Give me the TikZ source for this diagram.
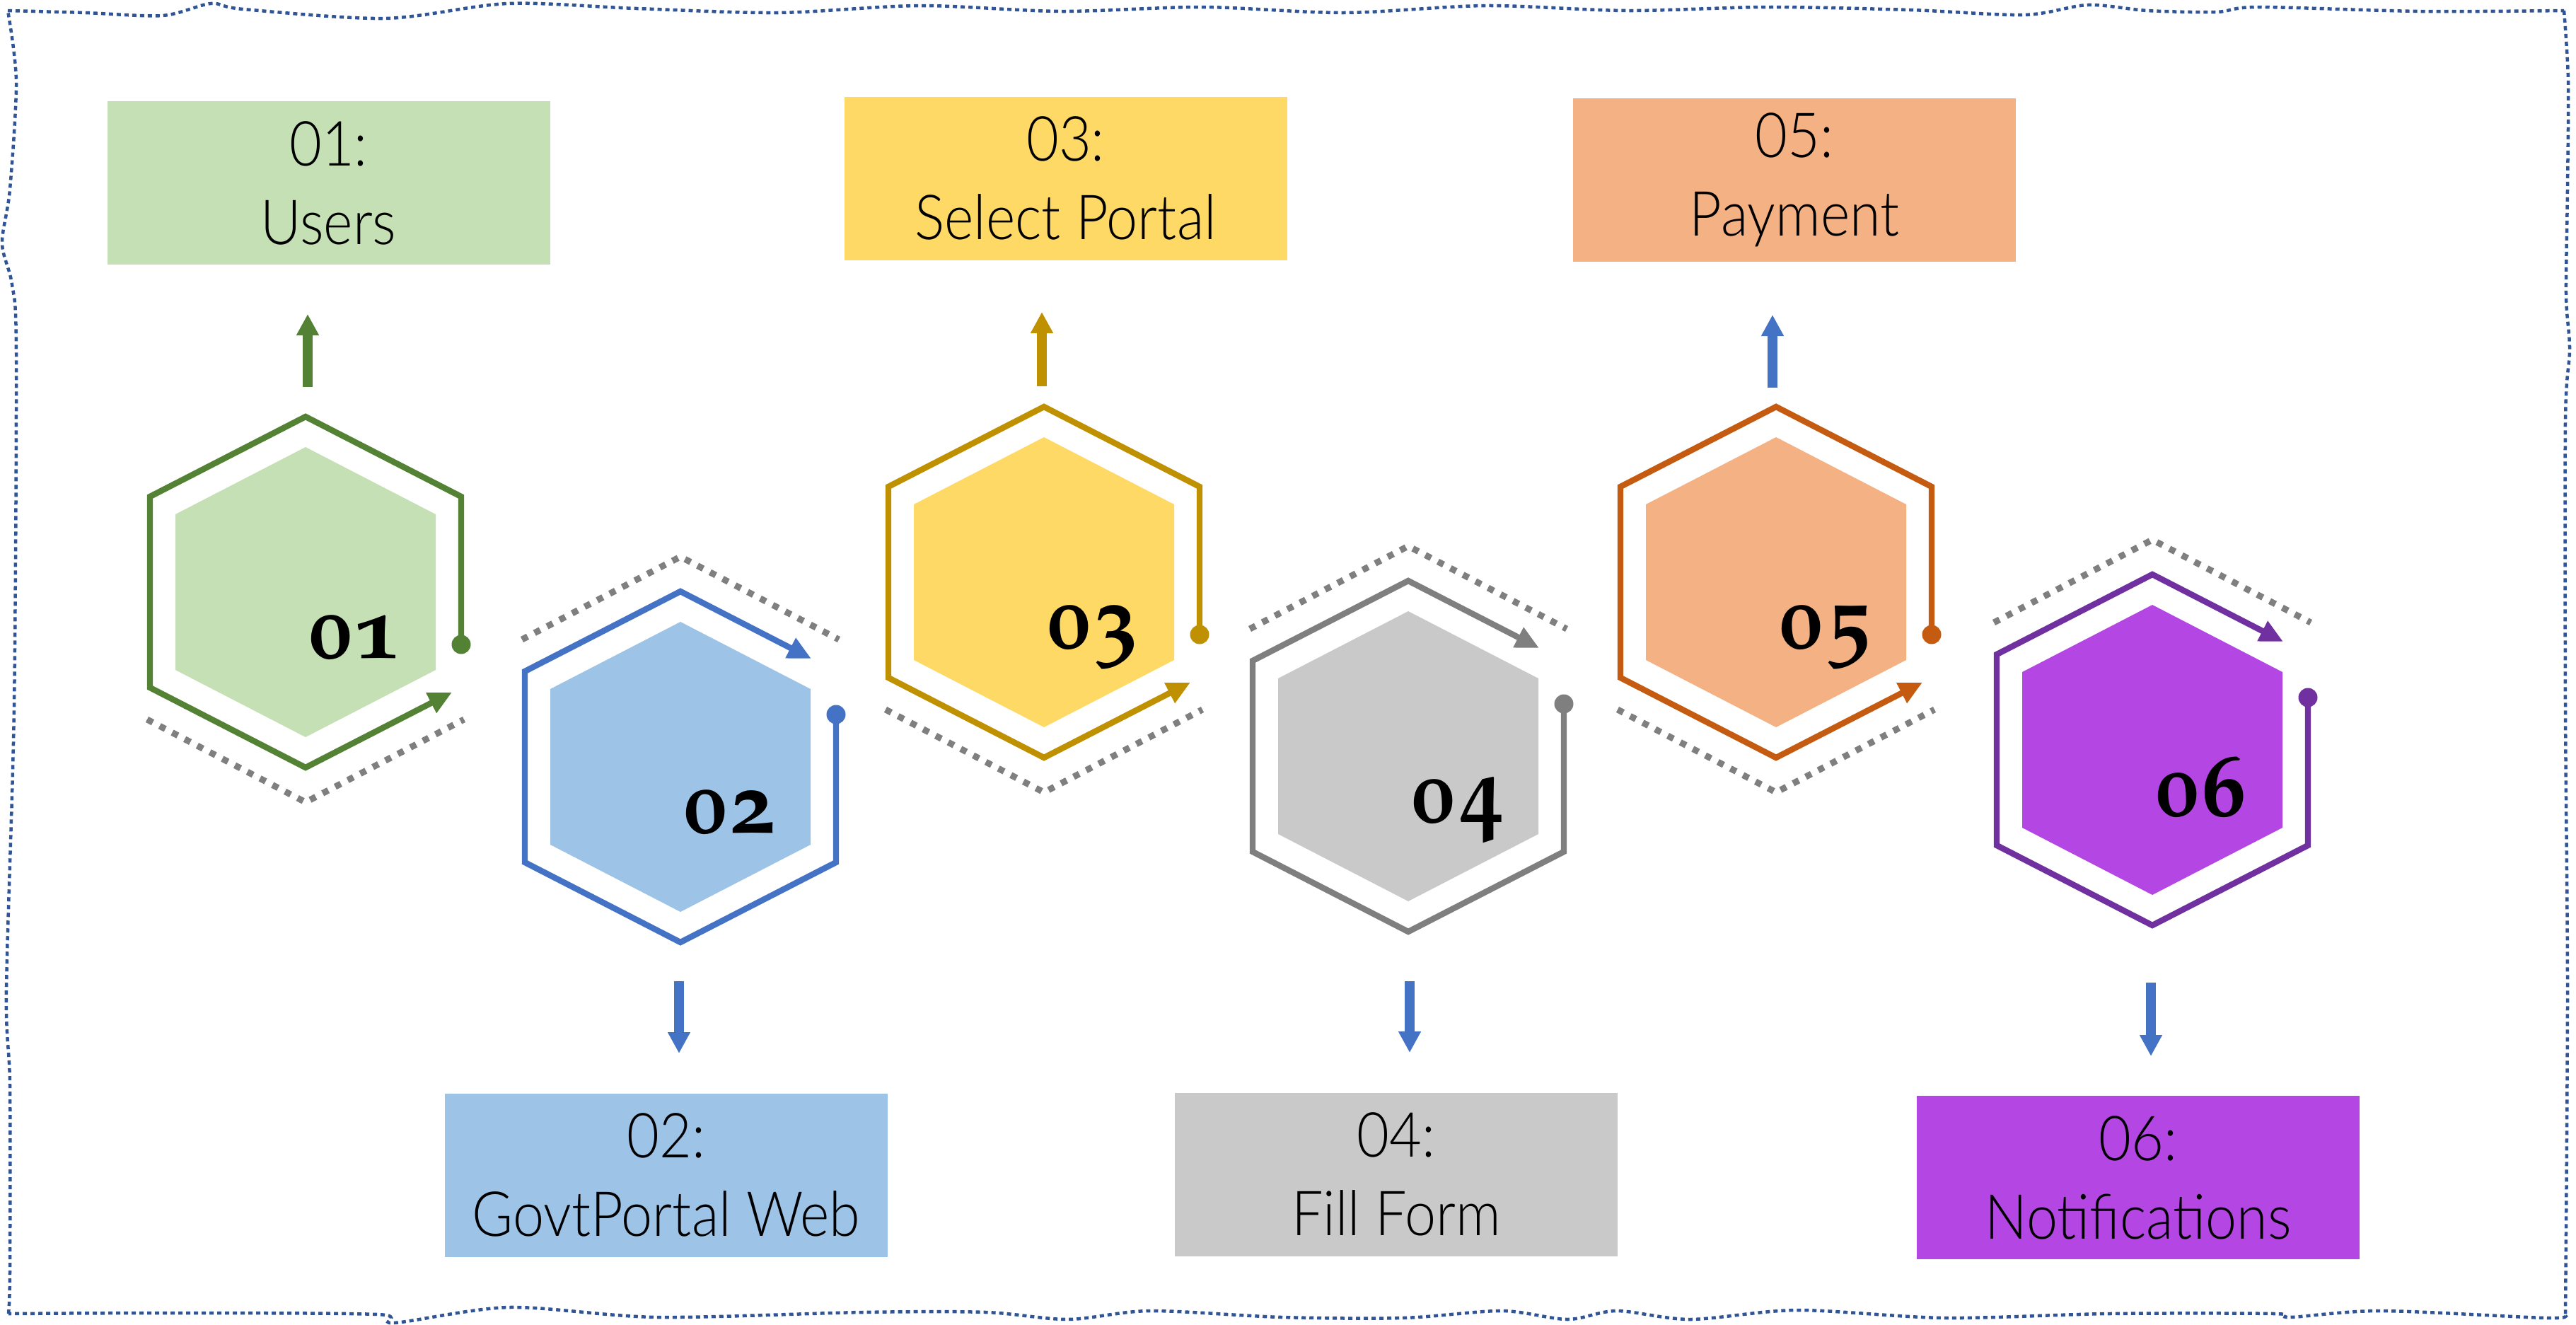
\documentclass[tikz,border=0pt]{standalone}
\usepackage{fontspec}
\newfontfamily\lblfont{Lato Light}[FakeStretch=0.9]
\newfontfamily\numfam{texgyrepagella-bold.otf}[Numbers=OldStyle]
\newcommand\numfont{\numfam\fontsize{36}{40}\selectfont}
\usetikzlibrary{arrows.meta}
\definecolor{grnline}{HTML}{548235}
\definecolor{grnfill}{HTML}{C5E0B4}
\definecolor{bluline}{HTML}{4472C4}
\definecolor{blufill}{HTML}{9DC3E6}
\definecolor{gldline}{HTML}{BF9000}
\definecolor{gldfill}{HTML}{FFD966}
\definecolor{gryline}{HTML}{7F7F7F}
\definecolor{gryfill}{HTML}{C9C9C9}
\definecolor{orgline}{HTML}{C55A11}
\definecolor{orgfill}{HTML}{F4B183}
\definecolor{prpline}{HTML}{7030A0}
\definecolor{prpfill}{HTML}{B447E4}
\definecolor{frameblue}{HTML}{2F5597}
\begin{document}
\begin{tikzpicture}[yscale=-1,
  box/.style={minimum width=6.26cm,minimum height=2.31cm,inner sep=0pt,align=center,
    font=\lblfont\fontsize{25}{31.6}\selectfont},
  rim/.style={line width=0.084cm,line join=miter,-{Triangle[length=0.33cm,width=0.3cm]}},
  dots/.style={gryline,line width=0.09cm,dash pattern=on 0.09cm off 0.11cm},
  shaft/.style={line width=0.14cm,-{Triangle[length=0.3cm,width=0.3cm]}},
  num/.style={anchor=base west,inner sep=0pt,font=\numfont},
  frame/.style={frameblue,line width=0.045cm,dash pattern=on 0.06cm off 0.05cm}]
\useasboundingbox (0,0) rectangle (36.42,18.73);

% wavy dotted frame
\draw[frame] plot[smooth] coordinates {(0.11,0.15) (1.2,0.18) (2.3,0.22) (2.98,0.05) (3.44,0.13) (5.45,0.26) (7.18,0.05) (9.0,0.12) (11,0.18) (13,0.08) (15,0.16) (17,0.10) (19,0.18) (21,0.08) (23,0.15) (25,0.10) (27.0,0.14) (28.62,0.21) (29.52,0.07) (30.36,0.15) (31.33,0.17) (31.93,0.10) (34.21,0.16) (36.25,0.15)};
\draw[frame] plot[smooth] coordinates {(36.25,0.15) (36.31,1.14) (36.30,2.66) (36.28,4.18) (36.33,4.94) (36.27,5.95) (36.27,10) (36.3,14) (36.27,18.6)};
\draw[frame] plot[smooth] coordinates {(36.27,18.6) (35.98,18.63) (33.66,18.53) (32.38,18.62) (32.15,18.57) (29.82,18.57) (27.5,18.63) (25.41,18.52) (23.9,18.65) (22.86,18.53) (22.16,18.65) (21.23,18.53) (19.84,18.63) (18.12,18.62) (16.26,18.53) (15.10,18.65) (13.94,18.55) (12.19,18.55) (9.29,18.62) (7.2,18.48) (5.57,18.70) (5.34,18.58) (2.5,18.56) (0.12,18.57)};
\draw[frame] plot[smooth] coordinates {(0.12,18.57) (0.14,18.0) (0.14,15.33) (0.09,14.0) (0.2,10) (0.23,4.97) (0.17,4.02) (0.03,3.44) (0.14,2.68) (0.23,1.15) (0.11,0.15)};

% label boxes
\node[box,fill=grnfill] (b1) at (4.645,2.585) {01:\\Users};
\node[box,fill=blufill] (b2) at (9.42,16.61) {02:\\GovtPortal Web};
\node[box,fill=gldfill] (b3) at (15.065,2.52) {03:\\Select Portal};
\node[box,fill=gryfill] (b4) at (19.74,16.60) {04:\\Fill Form};
\node[box,fill=orgfill] (b5) at (25.37,2.54) {05:\\Payment};
\node[box,fill=prpfill] (b6) at (30.23,16.645) {06:\\Notifications};

% hexagons
\foreach \n/\cx/\cy/\s/\ax/\lc/\fc in {01/4.32/8.37/1/2.07/grnline/grnfill,
    02/9.62/10.84/-1/1.85/bluline/blufill, 03/14.76/8.23/1/2.07/gldline/gldfill,
    04/19.91/10.69/-1/1.85/gryline/gryfill, 05/25.11/8.23/1/2.07/orgline/orgfill,
    06/30.43/10.60/-1/1.85/prpline/prpfill}
{
  \begin{scope}[shift={(\cx,\cy)}]
    \coordinate (h\n) at (0,0);
    \fill[\fc] (0,-2.05) -- (1.84,-1.10) -- (1.84,1.10) -- (0,2.05) -- (-1.84,1.10) -- (-1.84,-1.10) -- cycle;
    \draw[rim,\lc] (2.20,{0.74*\s}) -- (2.20,{-1.35*\s}) -- (0,{-2.48*\s}) -- (-2.20,{-1.35*\s})
      -- (-2.20,{1.35*\s}) -- (0,{2.48*\s}) -- (\ax,{(2.48-0.5136*\ax)*\s});
    \fill[\lc] (2.20,{0.74*\s}) circle (0.135);
    \draw[dots] (-2.24,{1.80*\s}) -- (0,{2.97*\s}) -- (2.24,{1.80*\s});
    \node[num] (n\n) at (0.02,0.93) {\n};
  \end{scope}
}

% arrows to the labels
\foreach \n/\x/\ys/\ye/\c in {1/4.35/5.47/4.44/grnline, 3/14.73/5.46/4.41/gldline,
    5/25.06/5.48/4.45/bluline, 2/9.60/13.87/14.89/bluline,
    4/19.93/13.87/14.88/bluline, 6/30.41/13.89/14.93/bluline}
{
  \coordinate (s\n) at (\x,\ys);
  \coordinate (e\n) at (\x,\ye);
  \draw[shaft,\c] (s\n) -- (e\n);
}

\end{tikzpicture}
\end{document}
